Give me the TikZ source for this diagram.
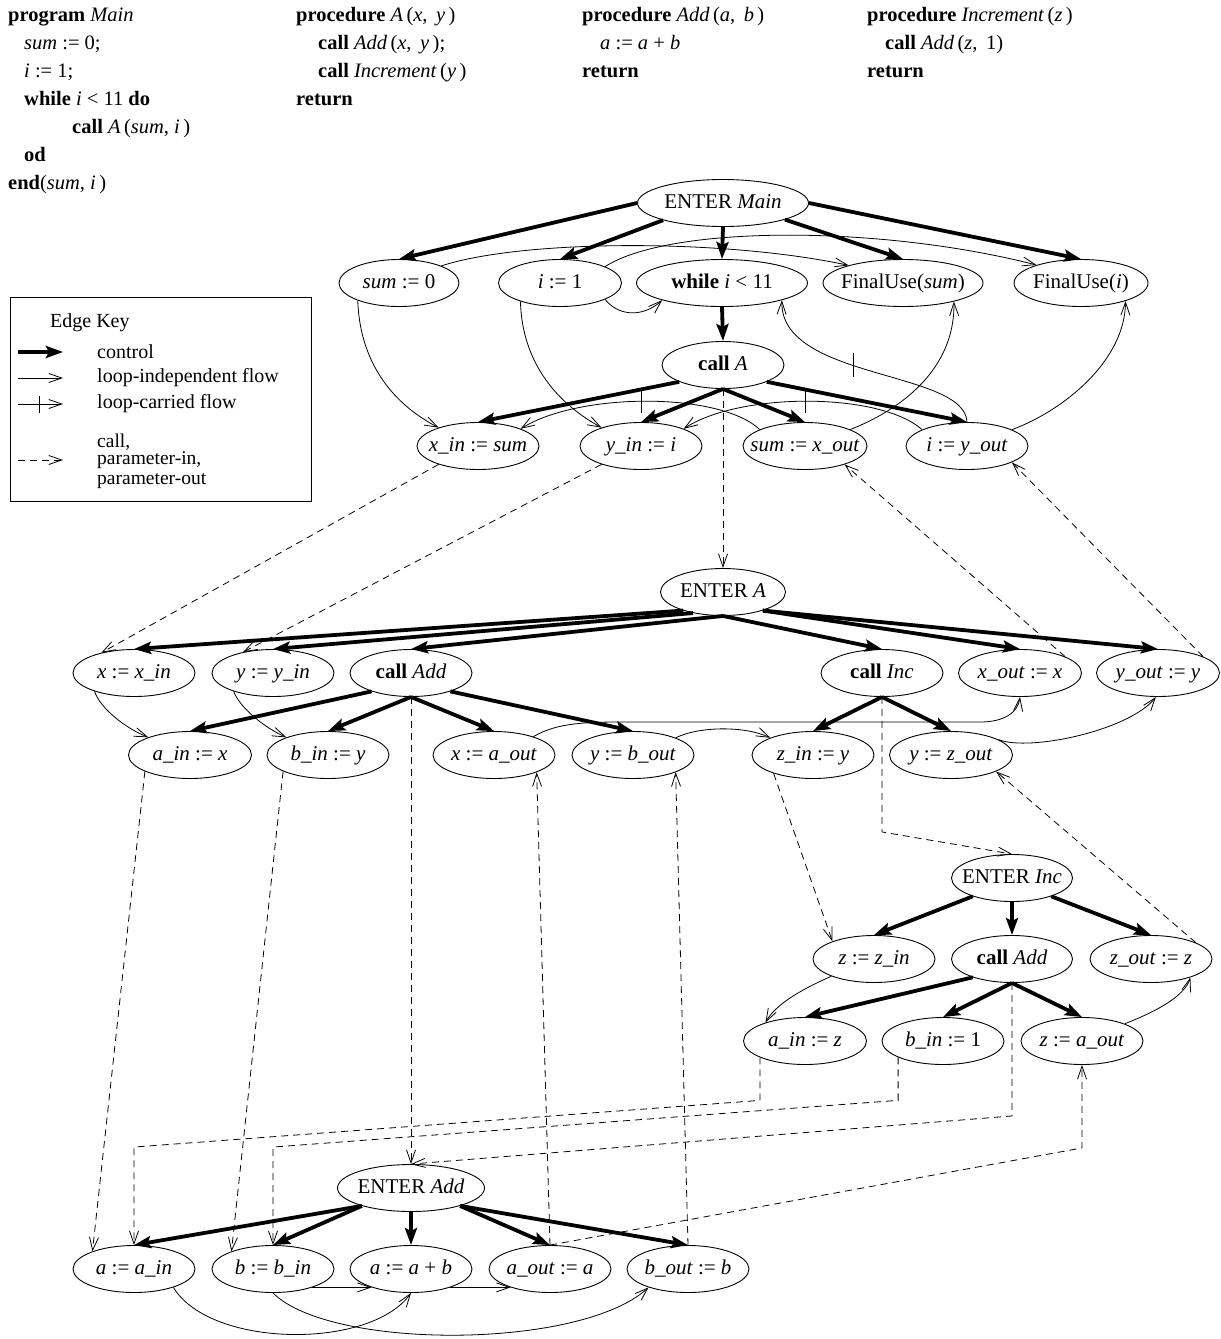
\documentclass[tikz,border=0pt]{standalone}
\usepackage{fontspec}
\setmainfont{Liberation Serif}
\usetikzlibrary{arrows.meta,shapes.geometric}
\newcommand\nt[1]{\makebox[0pt]{\strut #1}}
\begin{document}
\begin{tikzpicture}[x=1pt,y=-1pt,
  nd/.style={draw, ellipse, line width=0.9pt, inner sep=0pt, minimum width=122pt, minimum height=47pt, font=\fontsize{21}{25}\selectfont},
  code/.style={anchor=base west, inner sep=0pt, font=\fontsize{20.5}{24}\selectfont},
  keyt/.style={anchor=west, inner sep=0pt, font=\fontsize{20}{24}\selectfont},
  keyb/.style={anchor=base west, inner sep=0pt, font=\fontsize{19.5}{20}\selectfont},
  ctl/.style={line width=3.8pt, -{Stealth[length=17pt,width=12pt,inset=3pt]}},
  flw/.style={line width=0.8pt, -{Straight Barb[length=13pt,width=9pt]}},
  prm/.style={line width=0.8pt, dash pattern=on 7pt off 5pt, -{Straight Barb[length=13pt,width=9pt]}},
  tickmark/.style={line width=0.8pt},
]
\useasboundingbox (0,0) rectangle (1221,1339);

% ---------------- code ----------------
\node[code] (c11) at (8,21) {\textbf{program} \textit{Main}};
\node[code] (c12) at (24,49) {\textit{sum} := 0;};
\node[code] (c13) at (24,77) {\textit{i} := 1;};
\node[code] (c14) at (24,105) {\textbf{while} \textit{i} < 11 \textbf{do}};
\node[code] (c15) at (72,133) {\textbf{call} \textit{A}\,(\textit{sum}, \textit{i}\,)};
\node[code] (c16) at (24,161) {\textbf{od}};
\node[code] (c17) at (8,189) {\textbf{end}(\textit{sum}, \textit{i}\,)};

\node[code] (c21) at (296,21) {\textbf{procedure} \textit{A}\,(\textit{x}, \,\textit{y}\,)};
\node[code] (c22) at (318,49) {\textbf{call} \textit{Add}\,(\textit{x}, \,\textit{y}\,);};
\node[code] (c23) at (318,77) {\textbf{call} \textit{Increment}\,(\textit{y}\,)};
\node[code] (c24) at (296,105) {\textbf{return}};

\node[code] (c31) at (582,21) {\textbf{procedure} \textit{Add}\,(\textit{a}, \,\textit{b}\,)};
\node[code] (c32) at (600,49) {\textit{a} := \textit{a} + \textit{b}};
\node[code] (c33) at (582,77) {\textbf{return}};

\node[code] (c41) at (867,21) {\textbf{procedure} \textit{Increment}\,(\textit{z}\,)};
\node[code] (c42) at (885,49) {\textbf{call} \textit{Add}\,(\textit{z}, \,1)};
\node[code] (c43) at (867,77) {\textbf{return}};

% ---------------- edge key ----------------
\node[draw, line width=0.8pt, minimum width=301pt, minimum height=204pt, inner sep=0pt, anchor=north west] (key) at (10,297) {};
\node[keyt] (k0) at (50,323) {Edge Key};
\coordinate (ka1) at (18,352); \coordinate (kb1) at (63,352);
\coordinate (ka2) at (18,378); \coordinate (kb2) at (63,378);
\coordinate (ka3) at (18,404); \coordinate (kb3) at (63,404);
\coordinate (ka4) at (18,460); \coordinate (kb4) at (63,460);
\draw[ctl] (ka1) -- (kb1);
\draw[flw] (ka2) -- (kb2);
\draw[flw] (ka3) -- (kb3);
\draw[tickmark] (39,396) -- (39,413);
\draw[prm] (ka4) -- (kb4);
\node[keyt] (k1) at (97,352) {control};
\node[keyt] (k2) at (97,378) {loop-independent flow};
\node[keyt] (k3) at (97,404) {loop-carried flow};
\node[keyb] (k4a) at (97,447) {call,};
\node[keyb] (k4b) at (97,464) {parameter-in,};
\node[keyb] (k4c) at (97,484) {parameter-out};

% ---------------- Main ----------------
\node[nd, minimum width=171pt] (emain) at (723,203) {\nt{ENTER \textit{Main}}};
\node[nd, minimum width=120pt] (sum0) at (399,283) {\nt{\textit{sum} := 0}};
\node[nd, minimum width=123pt] (i1) at (560,283) {\nt{\textit{i} := 1}};
\node[nd, minimum width=171pt] (wh) at (722,283) {\nt{\textbf{while} \textit{i} < 11}};
\node[nd, minimum width=160pt] (fsum) at (903,283) {\nt{FinalUse(\textit{sum})}};
\node[nd, minimum width=134pt] (fi) at (1081,283) {\nt{FinalUse(\textit{i})}};
\node[nd] (callA) at (723,365) {\nt{\textbf{call} \textit{A}}};
\node[nd] (xin) at (478,446) {\nt{\textit{x\_in} := \textit{sum}}};
\node[nd] (yin) at (641,446) {\nt{\textit{y\_in} := \textit{i}}};
\node[nd, minimum width=124pt] (sumx) at (805,446) {\nt{\textit{sum} := \textit{x\_out}}};
\node[nd] (iy) at (967,446) {\nt{\textit{i} := \textit{y\_out}}};

% ---------------- A ----------------
\node[nd, minimum width=125pt] (eA) at (723,592) {\nt{ENTER \textit{A}}};
\node[nd] (xx) at (134,673) {\nt{\textit{x} := \textit{x\_in}}};
\node[nd] (yy) at (273,673) {\nt{\textit{y} := \textit{y\_in}}};
\node[nd] (cAdd) at (411,673) {\nt{\textbf{call} \textit{Add}}};
\node[nd] (cInc) at (882,673) {\nt{\textbf{call} \textit{Inc}}};
\node[nd, minimum width=123pt] (xout) at (1020,673) {\nt{\textit{x\_out} := \textit{x}}};
\node[nd, minimum width=123pt] (yout) at (1158,673) {\nt{\textit{y\_out} := \textit{y}}};
\node[nd, minimum width=123pt] (ain) at (190,755) {\nt{\textit{a\_in} := \textit{x}}};
\node[nd] (bin) at (328,755) {\nt{\textit{b\_in} := \textit{y}}};
\node[nd] (xa) at (494,755) {\nt{\textit{x} := \textit{a\_out}}};
\node[nd] (yb) at (633,755) {\nt{\textit{y} := \textit{b\_out}}};
\node[nd] (zin) at (813,755) {\nt{\textit{z\_in} := \textit{y}}};
\node[nd, minimum width=123pt] (yz) at (951,755) {\nt{\textit{y} := \textit{z\_out}}};

% ---------------- Inc ----------------
\node[nd, minimum width=121pt] (eInc) at (1012,878) {\nt{ENTER \textit{Inc}}};
\node[nd] (zz) at (874,959) {\nt{\textit{z} := \textit{z\_in}}};
\node[nd, minimum width=121pt] (cAdd2) at (1012,959) {\nt{\textbf{call} \textit{Add}}};
\node[nd] (zout) at (1151,959) {\nt{\textit{z\_out} := \textit{z}}};
\node[nd, minimum width=123pt] (ain2) at (805,1041) {\nt{\textit{a\_in} := \textit{z}}};
\node[nd] (bin2) at (943,1041) {\nt{\textit{b\_in} := 1}};
\node[nd] (za) at (1082,1041) {\nt{\textit{z} := \textit{a\_out}}};

% ---------------- Add ----------------
\node[nd, minimum width=147pt] (eAdd) at (411,1188) {\nt{ENTER \textit{Add}}};
\node[nd] (aa) at (134,1269) {\nt{\textit{a} := \textit{a\_in}}};
\node[nd] (bb) at (273,1269) {\nt{\textit{b} := \textit{b\_in}}};
\node[nd] (ab) at (411,1269) {\nt{\textit{a} := \textit{a} + \textit{b}}};
\node[nd] (aout) at (550,1269) {\nt{\textit{a\_out} := \textit{a}}};
\node[nd] (bout) at (688,1269) {\nt{\textit{b\_out} := \textit{b}}};

% ---------------- control edges ----------------
\draw[ctl] (emain.west) -- (sum0.north);
\draw[ctl] (emain.196) -- (i1.north);
\draw[ctl] (emain.south) -- (wh.north);
\draw[ctl] (emain.345) -- (fsum.north);
\draw[ctl] (emain.east) -- (fi.north);
\draw[ctl] (wh.south) -- (callA.north);
\draw[ctl] (callA.201) -- (xin.north);
\draw[ctl] (callA.south) -- (yin.north);
\draw[ctl] (callA.south) -- (sumx.north);
\draw[ctl] (callA.339) -- (iy.north);

\draw[ctl] (eA.205) -- (xx.north);
\draw[ctl] (eA.215) -- (yy.north);
\draw[ctl] (eA.south) -- (cAdd.north);
\draw[ctl] (eA.south) -- (cInc.north);
\draw[ctl] (eA.335) -- (xout.north);
\draw[ctl] (eA.335) -- (yout.north);
\draw[ctl] (cAdd.205) -- (ain.north);
\draw[ctl] (cAdd.south) -- (bin.north);
\draw[ctl] (cAdd.south) -- (xa.north);
\draw[ctl] (cAdd.335) -- (yb.north);
\draw[ctl] (cInc.south) -- (zin.north);
\draw[ctl] (cInc.south) -- (yz.north);

\draw[ctl] (eInc.205) -- (zz.north);
\draw[ctl] (eInc.south) -- (cAdd2.north);
\draw[ctl] (eInc.335) -- (zout.north);
\draw[ctl] (cAdd2.205) -- (ain2.north);
\draw[ctl] (cAdd2.south) -- (bin2.north);
\draw[ctl] (cAdd2.south) -- (za.north);

\draw[ctl] (eAdd.200) -- (aa.north);
\draw[ctl] (eAdd.200) -- (bb.north);
\draw[ctl] (eAdd.south) -- (ab.north);
\draw[ctl] (eAdd.340) -- (aout.north);
\draw[ctl] (eAdd.340) -- (bout.north);

% ---------------- flow edges ----------------
\draw[flw] (sum0.22) .. controls (520,240) and (720,238) .. (fsum.162);
\draw[flw] (i1.20) .. controls (670,225) and (880,225) .. (fi.158);
\draw[flw] (i1.340) .. controls (620,318) and (645,316) .. (wh.196);
\draw[flw] (sum0.203) .. controls (360,365) and (395,405) .. (xin.155);
\draw[flw] (i1.205) .. controls (522,365) and (560,405) .. (yin.155);
\draw[flw] (sumx.160) .. controls (720,392) and (580,392) .. (xin.22) coordinate[pos=0.52] (tk1);
\draw[flw] (iy.160) .. controls (880,392) and (740,392) .. (yin.22) coordinate[pos=0.51] (tk2);
\draw[flw] (iy.north) .. controls (965,370) and (780,380) .. (wh.344) coordinate[pos=0.57] (tk3);
\draw[tickmark] ([yshift=12pt]tk1) -- ([yshift=-12pt]tk1);
\draw[tickmark] ([yshift=12pt]tk2) -- ([yshift=-12pt]tk2);
\draw[tickmark] ([yshift=12pt]tk3) -- ([yshift=-12pt]tk3);
\draw[flw] (sumx.20) .. controls (900,410) and (955,370) .. (fsum.340);
\draw[flw] (iy.20) .. controls (1065,410) and (1125,360) .. (fi.338);

\draw[flw] (xx.205) .. controls (100,708) and (125,728) .. (ain.157);
\draw[flw] (yy.205) .. controls (240,708) and (265,728) .. (bin.157);
\draw[flw] (xa.25) .. controls (555,724) and (580,722) .. (620,722) -- (980,722) .. controls (1005,722) and (1018,712) .. (xout.south);
\draw[flw] (yb.22) .. controls (700,726) and (745,726) .. (zin.158);
\draw[flw] (yz.18) .. controls (1030,752) and (1130,730) .. (yout.265);

\draw[flw] (zz.202) .. controls (800,990) and (775,1005) .. (ain2.155);
\draw[flw] (za.22) .. controls (1160,1010) and (1185,995) .. (zout.335);

\draw[flw] (aa.335) .. controls (210,1348) and (370,1350) .. (ab.south);
\draw[flw] (bb.335) -- (ab.205);
\draw[flw] (ab.335) -- (aout.205);
\draw[flw] (bb.south) .. controls (330,1350) and (580,1350) .. (bout.205);

% ---------------- call / parameter edges ----------------
\draw[prm] (callA.south) -- (eA.north);
\draw[prm] (xin.205) -- (xx.148);
\draw[prm] (yin.205) -- (yy.145);
\draw[prm] (xout.20) -- (sumx.335);
\draw[prm] (yout.20) -- (iy.340);

\draw[prm] (cInc.south) -- ++(0,135) -- (eInc.north);
\draw[prm] (zin.205) -- (zz.157);
\draw[prm] (zout.20) -- (yz.340);

\draw[prm] (cAdd.south) -- (eAdd.north);
\draw[prm] (ain.200) -- (aa.157);
\draw[prm] (bin.200) -- (bb.157);
\draw[prm] (aout.north) -- (xa.338);
\draw[prm] (bout.north) -- (yb.338);

\draw[prm] (cAdd2.south) -- ++(0,133) -- (eAdd.north);
\draw[prm] (ain2.200) -- ++(0,43) -- ([yshift=98pt]aa.north) -- (aa.north);
\draw[prm] (bin2.200) -- ++(0,43) -- ([yshift=98pt]bb.north) -- (bb.north);
\draw[prm] (aout.north) -- ([yshift=-83pt]za.south) -- (za.south);
\end{tikzpicture}
\end{document}
